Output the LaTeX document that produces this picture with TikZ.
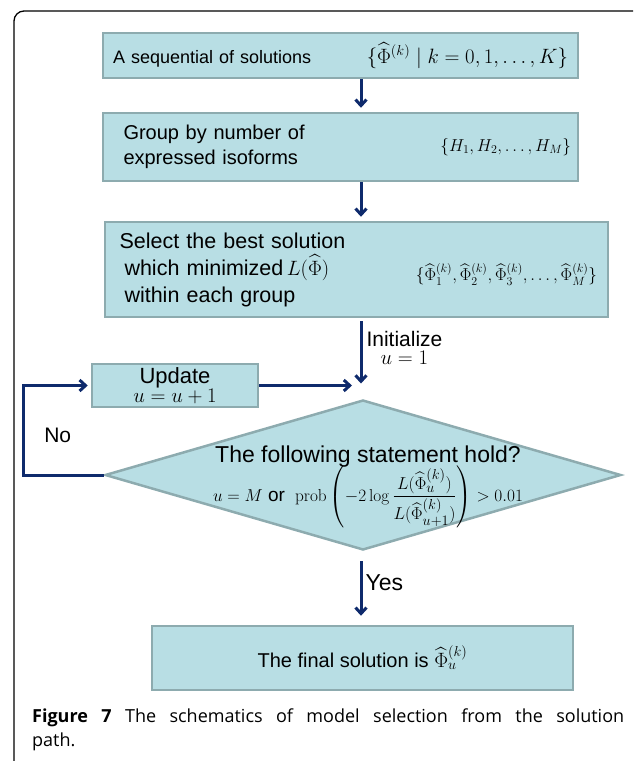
\documentclass[tikz,border=0pt]{standalone}
\usepackage{amsmath}
\usepackage[no-math]{fontspec}
\setmainfont{Liberation Sans}
\newfontfamily\capfont{Open Sans}
\usetikzlibrary{shapes.geometric, arrows.meta, positioning, calc}

\definecolor{boxfill}{HTML}{B8DEE4}
\definecolor{boxline}{HTML}{8DABAF}
\definecolor{arrowblue}{HTML}{0E2A6C}

\begin{document}
\begin{tikzpicture}[
    x=1pt, y=-1pt,
    >={Straight Barb[length=6pt, width=11pt]},
    box/.style     ={draw=boxline, line width=2.5pt, fill=boxfill, inner sep=0pt,
                     align=left, font=\fontsize{18}{20}\selectfont},
    decision/.style={diamond, draw=boxline, line width=2.5pt, fill=boxfill,
                     inner sep=0pt, aspect=3.45},
    mathlbl/.style ={inner sep=0pt, font=\fontsize{16.5}{20}\selectfont},
    flow/.style    ={->, line width=3pt, arrowblue},
    lbl/.style     ={inner sep=1pt, align=center, text=black, font=\fontsize{21}{21}\selectfont}
]
\useasboundingbox (0,0) rectangle (633,761);
\clip (0,0) rectangle (633,761);

% outer frame, cut by the page edges
\draw[line width=1.3pt, rounded corners=10pt] (14,800) |- (660,11);

% boxes of the chain
\node[box, minimum width=475, minimum height=45, text width=455] (seq) at (340.5,55.5)
    {A sequential of solutions\hfill{\fontsize{19.5}{20}\selectfont$\{\widehat{\Phi}^{(k)}\;|\;k=0,1,\ldots,K\}$}};

\node[box, minimum width=475, minimum height=68, text width=450,
      font=\fontsize{20}{25}\selectfont] (grp) at (340.5,147)
    {\hspace*{8pt}Group by number of\\\hspace*{8pt}expressed isoforms};
\node[mathlbl, anchor=east] (grpset) at ($(grp.east)+(-8,0)$)
    {$\{H_1,H_2,\ldots,H_M\}$};

\node[box, minimum width=503, minimum height=95, text width=490,
      font=\fontsize{21.5}{27}\selectfont] (best) at (356.5,269.5)
    {\hspace*{8pt}Select the best solution\\\hspace*{13pt}which minimized$\,L(\widehat{\Phi})$\\\hspace*{13pt}within each group};
\node[mathlbl, anchor=east, font=\fontsize{18}{20}\selectfont] (bestset) at ($(best.east)+(-12,5)$)
    {$\{\widehat{\Phi}_1^{(k)},\widehat{\Phi}_2^{(k)},\widehat{\Phi}_3^{(k)},\ldots,\widehat{\Phi}_M^{(k)}\}$};

\node[box, minimum width=166, minimum height=43, align=center, font=\fontsize{22}{19}\selectfont] (upd) at (175,385.5)
    {Update\\$u=u+1$};

\coordinate (merge) at (361,385.5);

% the test
\node[decision, minimum width=516, minimum height=150] (test) at (363,475) {};
\node[align=center, inner sep=0pt] (testtxt) at (368,487)
    {\fontsize{23}{25}\selectfont The following statement hold?\\[-3pt]
     \fontsize{19}{21}\selectfont $u=M$ or $\;\mathrm{prob}\left(-2\log\dfrac{L(\widehat{\Phi}_u^{(k)})}{L(\widehat{\Phi}_{u+1}^{(k)})}\right)>0.01$};

\node[box, minimum width=421, minimum height=64, align=center, font=\fontsize{20}{22}\selectfont] (final) at (362.5,658)
    {The final solution is $\widehat{\Phi}_u^{(k)}$};

% caption
\node[anchor=north west, inner sep=0pt, text width=592, align=justify,
      font=\capfont\fontsize{18}{24}\selectfont] (cap) at (32,709)
    {\textbf{Figure 7} The schematics of model selection from the solution\linebreak path.};

% --- Arrows ---
\draw[flow] (seq.south -| merge) -- ($(grp.north -| merge)+(0,-4)$);
\draw[flow] (grp.south -| merge) -- ($(best.north -| merge)+(0,-4)$);
\draw[flow] ($(best.south -| merge)+(0,3)$) -- ($(merge)+(0,-2)$)
    node[lbl, pos=0.42, right=3pt, align=center] (init) {Initialize\\[-3pt]\fontsize{22}{22}\selectfont$u=1$};
\draw[flow] (upd.east) -- ($(merge)+(-9,0)$);

% No branch back to update
\draw[flow] (test.west) -- ++(-80,0) coordinate (nocorner) |- ($(upd.west)+(-3,0)$)
    node[lbl, pos=0.22, right=18pt] (no) {No};

% Yes branch
\draw[flow] ($(test.south -| merge)+(0,10)$) -- ($(final.north -| merge)+(0,-9)$)
    node[lbl, pos=0.4, right=2pt, font=\fontsize{23}{23}\selectfont] (yes) {Yes};

\end{tikzpicture}
\end{document}
